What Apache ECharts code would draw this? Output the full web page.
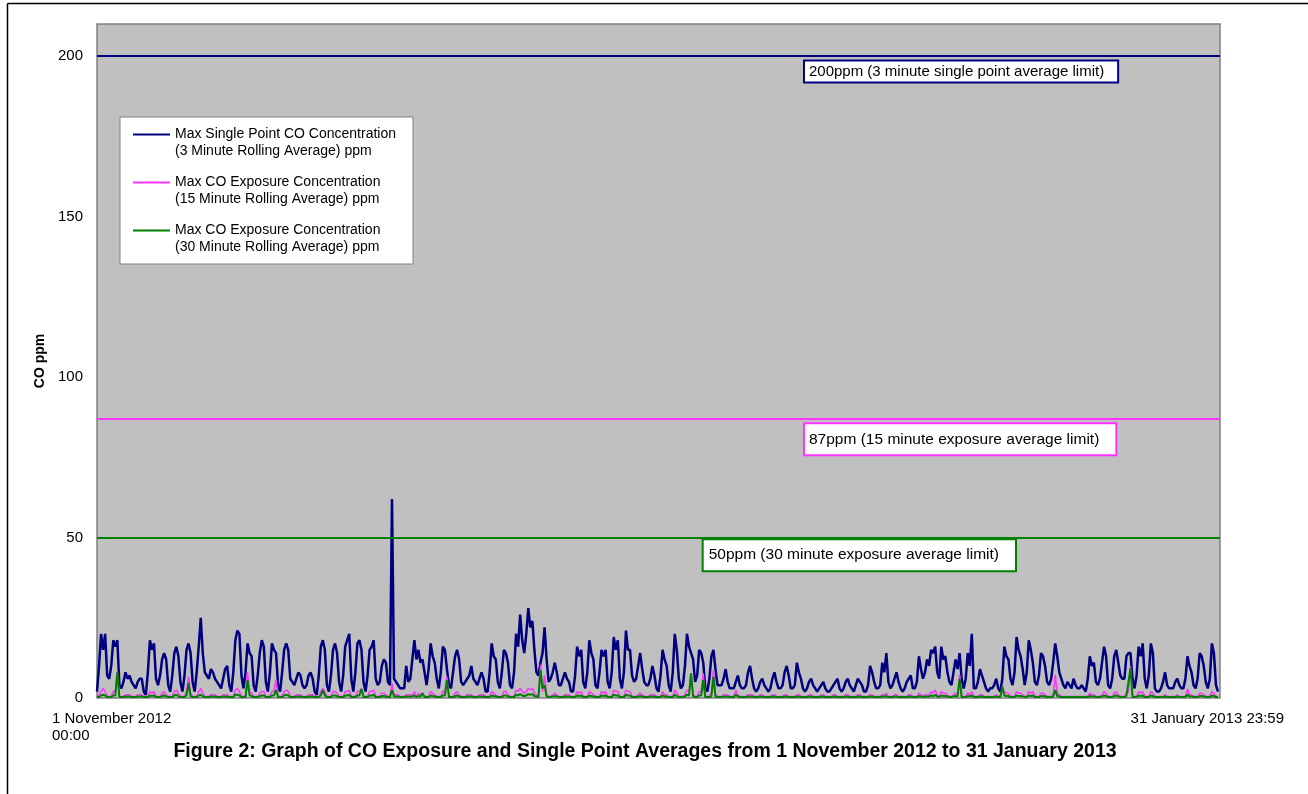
<!DOCTYPE html>
<html><head><meta charset="utf-8">
<script src="https://cdn.jsdelivr.net/npm/echarts@6/dist/echarts.min.js"></script>
<style>html,body{margin:0;padding:0;background:#fff}#c{width:1308px;height:794px}</style>
</head><body><div id="c"></div>
<script>
// ---- data (one sample every 4 hours, 6 per day, from 1 Nov 2012 00:00) ----
const seriesNames = [
  'Max Single Point CO Concentration\n(3 Minute Rolling Average) ppm',
  'Max CO Exposure Concentration\n(15 Minute Rolling Average) ppm',
  'Max CO Exposure Concentration\n(30 Minute Rolling Average) ppm'
];
const xTickLabels = ['1 November 2012\n00:00', '31 January 2013 23:59'];
const yTickValues = [0, 50, 100, 150, 200];
const limitValues = [200, 87, 50];
const limitLabels = [
  '200ppm (3 minute single point average limit)',
  '87ppm (15 minute exposure average limit)',
  '50ppm (30 minute exposure average limit)'
];
const titleText = 'Figure 2: Graph of CO Exposure and Single Point Averages from 1 November 2012 to 31 January 2013';

const singlePoint3min = [
  2,10,20,15,20,7,  6,10,18,16,18,4,  3,5,8,6,7,5,  4,3,5,6,6,2,
  1,8,18,15,17,6,  4,7,12,14,12,4,  2,7,14,16,13,5,  2,7,15,17,14,5,
  2,8,16,25,14,8,  7,6,9,8,6,5,  4,3,6,9,10,4,  2,8,18,21,20,7,
  3,8,17,14,13,4,  2,7,14,18,16,5,  2,8,17,15,14,4,  2,8,15,17,15,6,
  5,4,6,8,7,4,  3,4,7,8,6,2,  1,7,16,18,15,4,  2,7,15,17,14,5,
  2,7,16,18,20,6,  2,8,17,18,15,5,  2,7,15,16,18,6,  4,5,10,12,11,5,
  4,62,6,5,4,3,  3,3,10,5,6,12,  18,12,15,11,12,8,  4,9,17,13,11,6,
  3,8,16,15,9,4,  3,8,13,15,12,5,  4,5,6,7,10,6,  5,4,6,8,6,2,
  2,8,17,13,12,5,  3,8,15,14,11,4,  3,8,20,16,26,18,  14,20,28,22,24,15,
  8,7,11,14,22,12,  5,6,8,11,8,4,  4,6,8,6,5,2,  2,7,16,13,15,5,
  3,8,18,14,12,4,  3,8,15,13,15,5,  3,8,19,15,18,6,  3,8,21,15,15,7,
  5,6,10,14,9,5,  4,4,6,10,7,3,  2,7,15,12,10,4,  2,8,20,15,6,3,
  4,10,20,16,14,12,  5,7,15,14,11,3,  2,6,13,15,9,4,  4,4,6,9,5,3,
  3,3,5,7,4,3,  3,4,8,10,6,3,  2,3,5,6,4,3,  2,3,6,8,5,3,
  3,4,8,10,7,3,  3,4,11,8,6,3,  2,3,5,6,4,3,  2,3,4,5,3,2,
  2,3,4,5,6,3,  2,3,5,6,4,3,  2,4,6,5,4,2,  2,4,10,8,5,3,
  3,4,11,8,14,5,  3,4,6,8,5,3,  2,3,5,6,7,3,  3,5,13,9,6,8,
  12,10,15,14,16,8,  6,16,12,13,8,5,  4,8,12,9,14,6,  3,6,14,10,20,3,
  3,5,9,7,5,3,  2,3,3,4,6,3,  2,6,16,13,12,6,  4,8,19,15,13,9,
  4,8,18,15,11,5,  4,7,14,13,10,5,  4,6,11,17,13,8,  6,4,3,5,4,3,
  6,4,3,3,4,3,  2,6,13,10,11,5,  4,6,11,16,13,4,  3,6,13,15,11,7,
  6,6,13,14,14,6,  3,7,16,13,17,6,  3,7,17,14,3,2,  2,3,5,8,4,3,
  3,3,5,6,4,3,  3,6,13,10,8,4,  3,6,14,13,10,5,  3,6,17,14,4,2
];

const exposure15min = [
  0.5,1,2,3,2,0.5,  0.5,0.5,2,2,8,0.5,  0.5,0.5,1,1,1,0.5,  0.5,0.5,1,1,1,0.5,
  0.5,0.5,2,1.5,2,0.5,  0.5,0.5,1.5,2,1,0.5,  0.5,0.5,2,2.5,1.5,0.5,  0.5,0.5,2,6.6,1.5,0.5,
  0.5,0.5,2,3,1.5,0.5,  0.5,0.5,1,1,1,0.5,  0.5,0.5,1,1,1,0.5,  0.5,0.5,2.5,3,2,0.5,
  0.5,0.5,8,2,1.5,0.5,  0.5,0.5,1.5,2,2,0.5,  0.5,0.5,2,2,5.6,0.5,  0.5,0.5,2,2.5,2,0.5,
  0.5,0.5,1,1,1,0.5,  0.5,0.5,1,1,1,0.5,  0.5,0.5,2,3,2,0.5,  0.5,0.5,2,2,1.5,0.5,
  0.5,0.5,2,2,2.5,0.5,  0.5,0.5,2,2,3,0.5,  0.5,0.5,2,2,2.5,0.5,  0.5,0.5,1.5,1.5,1,0.5,
  0.5,4.5,1,1,1,0.5,  0.5,0.5,1,1,1,1,  2,0.5,1.5,1,1.5,0.5,  0.5,0.5,2,1.5,1,0.5,
  0.5,0.5,2,2,6.6,0.5,  0.5,0.5,1.5,2,1,0.5,  0.5,0.5,1,1,1,0.5,  0.5,0.5,1,1,1,0.5,
  0.5,0.5,2,1.5,1,0.5,  0.5,0.5,2,2,1,0.5,  0.5,0.5,2.5,2,3,2,  1.5,2,3,2.5,3,1.5,
  1,0.5,10.4,2,7,1,  0.5,0.5,1,1.5,1,0.5,  0.5,0.5,1,1,1,0.5,  0.5,0.5,2,1.5,2,0.5,
  0.5,0.5,2,1.5,1,0.5,  0.5,0.5,2,1.5,2,0.5,  0.5,0.5,2.5,2,2,0.5,  0.5,0.5,2.5,2,2,0.5,
  0.5,0.5,1,1.5,1,0.5,  0.5,0.5,1,1,1,0.5,  0.5,0.5,2,1,1,0.5,  0.5,0.5,2.5,1.5,0.5,0.5,
  0.5,1,2.5,2,7.7,1,  0.5,0.5,2,2,7.7,0.5,  0.5,0.5,1.5,8.7,1,0.5,  0.5,0.5,1,1,1,0.5,
  0.5,0.5,2.5,1,0.5,0.5,  0.5,0.5,1,1,1,0.5,  0.5,0.5,1,1,0.5,0.5,  0.5,0.5,1,1,0.5,0.5,
  0.5,0.5,1,1,0.5,0.5,  0.5,0.5,1,1,0.5,0.5,  0.5,0.5,1,1,0.5,0.5,  0.5,0.5,1,1,0.5,0.5,
  0.5,0.5,1,1,0.5,0.5,  0.5,0.5,1,1,0.5,0.5,  0.5,0.5,1,1,0.5,0.5,  0.5,0.5,1,1,0.5,0.5,
  0.5,0.5,1,1,1.5,0.5,  0.5,0.5,1,1,0.5,0.5,  0.5,0.5,0.5,1,1,0.5,  0.5,0.5,1.5,1,0.5,1,
  1,1,2,1.5,2.5,1,  0.5,2,1.5,1.5,1,0.5,  0.5,1,1.5,1,7.2,0.5,  0.5,0.5,1.5,1,2,0.5,
  0.5,0.5,1,1,0.5,0.5,  0.5,0.5,0.5,0.5,1,0.5,  0.5,3.5,2,1.5,1.5,0.5,  0.5,0.5,2,1.5,1.5,1,
  0.5,0.5,2,1.5,2,0.5,  0.5,0.5,1.5,1.5,1,0.5,  0.5,0.5,1,7.2,1.5,1,  0.5,0.5,0.5,0.5,0.5,0.5,
  0.5,0.5,0.5,0.5,0.5,0.5,  0.5,0.5,1.5,1,1,0.5,  0.5,0.5,1,2,1.5,0.5,  0.5,0.5,1.5,2,1,0.5,
  0.5,0.5,1.5,2,9.8,0.5,  0.5,0.5,2,1.5,2,0.5,  0.5,0.5,2,1.5,0.5,0.5,  0.5,0.5,0.5,1,0.5,0.5,
  0.5,0.5,0.5,1,0.5,0.5,  0.5,0.5,2.8,1,1,0.5,  0.5,0.5,1.5,1.5,1,0.5,  0.5,0.5,2,1.5,0.5,0.5
];

const exposure30min = [
  0.3,0.3,0.8,1,0.8,0.3,  0.3,0.3,0.8,0.8,8,0.3,  0.3,0.3,0.5,0.5,0.5,0.3,  0.3,0.3,0.5,0.5,0.5,0.3,
  0.3,0.3,0.8,0.6,0.8,0.3,  0.3,0.3,0.6,0.8,0.5,0.3,  0.3,0.3,0.8,1,0.6,0.3,  0.3,0.3,0.8,4.6,0.6,0.3,
  0.3,0.3,0.8,1,0.6,0.3,  0.3,0.3,0.5,0.5,0.5,0.3,  0.3,0.3,0.5,0.5,0.5,0.3,  0.3,0.3,1,1,0.8,0.3,
  0.3,0.3,5.6,0.8,0.6,0.3,  0.3,0.3,0.6,0.8,0.8,0.3,  0.3,0.3,0.8,0.8,2.5,0.3,  0.3,0.3,0.8,1,0.8,0.3,
  0.3,0.3,0.5,0.5,0.5,0.3,  0.3,0.3,0.5,0.5,0.5,0.3,  0.3,0.3,0.8,2.5,0.8,0.3,  0.3,0.3,0.8,0.8,0.6,0.3,
  0.3,0.3,0.8,0.8,1,0.3,  0.3,0.3,0.8,0.8,2.8,0.3,  0.3,0.3,0.8,0.8,1,0.3,  0.3,0.3,0.6,0.6,0.5,0.3,
  0.3,2.5,0.5,0.5,0.5,0.3,  0.3,0.3,0.5,0.5,0.5,0.5,  0.8,0.3,0.6,0.5,1.5,0.3,  0.3,0.3,0.8,0.6,0.5,0.3,
  0.3,0.3,0.8,0.8,5.6,0.3,  0.3,0.3,0.6,0.8,0.5,0.3,  0.3,0.3,0.5,0.5,0.5,0.3,  0.3,0.3,0.5,0.5,0.5,0.3,
  0.3,0.3,0.8,0.6,0.5,0.3,  0.3,0.3,0.8,0.8,0.5,0.3,  0.3,0.3,1,0.8,1.2,0.8,  0.6,0.8,1.2,1,1.2,0.6,
  0.5,0.3,8.7,3,4,0.5,  0.3,0.3,0.5,0.6,0.5,0.3,  0.3,0.3,0.5,0.5,0.5,0.3,  0.3,0.3,0.8,0.6,0.8,0.3,
  0.3,0.3,0.8,0.6,0.5,0.3,  0.3,0.3,0.8,0.6,0.8,0.3,  0.3,0.3,1,0.8,0.8,0.3,  0.3,0.3,1,0.8,0.8,0.3,
  0.3,0.3,0.5,0.6,0.5,0.3,  0.3,0.3,0.5,0.5,0.5,0.3,  0.3,0.3,0.8,0.5,0.5,0.3,  0.3,0.3,1,0.6,0.3,0.3,
  0.3,0.5,1,0.8,7.7,0.5,  0.3,0.3,0.8,0.8,5.6,0.3,  0.3,0.3,0.6,6.6,0.5,0.3,  0.3,0.3,0.5,0.5,0.5,0.3,
  0.3,0.3,1,0.5,0.3,0.3,  0.3,0.3,0.5,0.5,0.5,0.3,  0.3,0.3,0.5,0.5,0.3,0.3,  0.3,0.3,0.5,0.5,0.3,0.3,
  0.3,0.3,0.5,0.5,0.3,0.3,  0.3,0.3,0.5,0.5,0.3,0.3,  0.3,0.3,0.5,0.5,0.3,0.3,  0.3,0.3,0.5,0.5,0.3,0.3,
  0.3,0.3,0.5,0.5,0.3,0.3,  0.3,0.3,0.5,0.5,0.3,0.3,  0.3,0.3,0.5,0.5,0.3,0.3,  0.3,0.3,0.5,0.5,0.3,0.3,
  0.3,0.3,0.5,0.5,0.6,0.3,  0.3,0.3,0.5,0.5,0.3,0.3,  0.3,0.3,0.3,0.5,0.5,0.3,  0.3,0.3,0.6,0.5,0.3,0.5,
  0.5,0.5,0.8,0.6,1,0.5,  0.3,0.8,0.6,0.6,0.5,0.3,  0.3,0.5,0.6,0.5,6,0.3,  0.3,0.3,0.6,0.5,0.8,0.3,
  0.3,0.3,0.5,0.5,0.3,0.3,  0.3,0.3,0.3,0.3,0.5,0.3,  0.3,3.5,0.8,0.6,0.6,0.3,  0.3,0.3,0.8,0.6,0.6,0.5,
  0.3,0.3,0.8,0.6,0.8,0.3,  0.3,0.3,0.6,0.6,0.5,0.3,  0.3,0.3,0.5,2.5,0.6,0.5,  0.3,0.3,0.3,0.3,0.3,0.3,
  0.3,0.3,0.3,0.3,0.3,0.3,  0.3,0.3,0.6,0.5,0.5,0.3,  0.3,0.3,0.5,0.8,0.6,0.3,  0.3,0.3,0.6,0.8,0.5,0.3,
  0.3,0.3,0.6,5,9.3,0.3,  0.3,0.3,0.8,0.6,0.8,0.3,  0.3,0.3,0.8,0.6,0.3,0.3,  0.3,0.3,0.3,0.5,0.3,0.3,
  0.3,0.3,0.3,0.5,0.3,0.3,  0.3,0.3,1,0.5,0.5,0.3,  0.3,0.3,0.6,0.6,0.5,0.3,  0.3,0.3,0.8,0.6,0.3,0.3
];

// ---- chart ----
const START = Date.UTC(2012, 10, 1, 0, 0);
const END = Date.UTC(2013, 0, 31, 23, 59);
const STEP = 4 * 3600 * 1000;
const DAY = 86400000;
const toPairs = arr => arr.map((v, i) => [START + i * STEP, v]);
const colors = ['#000080', '#ff33ff', '#008000'];
const FONT = '"Liberation Sans", Arial, sans-serif';
// label box anchor positions (days from start, ppm)
const boxAnchors = [[58.0, 195.2], [58.0, 80.6], [49.7, 44.5]];
const boxPadding = [[1, 13, 1, 4], [6, 16, 6, 4], [6, 16, 6, 5]];
const boxFont = [15, 15.5, 15.5];

const chart = echarts.init(document.getElementById('c'), null, {renderer: 'canvas'});
const series = [singlePoint3min, exposure15min, exposure30min].map((arr, k) => ({
  name: seriesNames[k],
  type: 'line',
  data: toPairs(arr),
  symbol: 'none',
  showSymbol: false,
  color: colors[k],
  lineStyle: {color: colors[k], width: k === 0 ? 2.5 : (k === 1 ? 1.5 : 2)},
  z: 2 + k,
  silent: true,
  markLine: {
    silent: true, symbol: ['none', 'none'],
    label: {show: false},
    lineStyle: {color: colors[k], width: 2, type: 'solid'},
    data: [{yAxis: limitValues[k]}]
  },
  markPoint: {
    silent: true, symbol: 'rect', symbolSize: 0,
    data: [{coord: [START + boxAnchors[k][0] * DAY, boxAnchors[k][1]], value: limitValues[k]}],
    label: {
      show: true, position: 'right', distance: 0,
      formatter: limitLabels[k],
      color: '#000', fontSize: boxFont[k], fontFamily: FONT, lineHeight: 18,
      backgroundColor: '#fff', borderColor: colors[k], borderWidth: 2,
      padding: boxPadding[k]
    }
  }
}));

chart.setOption({
  animation: false,
  backgroundColor: '#fff',
  textStyle: {fontFamily: FONT, color: '#000'},
  title: {
    text: titleText, left: 640, top: 737, textAlign: 'center',
    textStyle: {fontSize: 19.5, fontWeight: 'bold', color: '#000', fontFamily: FONT}
  },
  grid: {left: 97, right: 88, top: 24, bottom: 96, show: true,
         backgroundColor: '#c0c0c0', borderColor: '#808080', borderWidth: 1.5},
  legend: {
    orient: 'vertical', left: 120, top: 117,
    backgroundColor: '#fff', borderColor: '#808080', borderWidth: 1,
    padding: [9, 17, 8, 13], itemGap: 14, itemWidth: 37, itemHeight: 34,
    icon: 'path://M0,7.6h37v1.8h-37z M0,0h0.05v0.05h-0.05z M0,33.95h0.05v0.05h-0.05z',
    textStyle: {fontSize: 14, lineHeight: 17, color: '#000', fontFamily: FONT},
    selectedMode: false,
    data: seriesNames
  },
  xAxis: {
    type: 'time', min: START, max: END,
    axisLine: {show: false}, axisTick: {show: false},
    axisLabel: {show: false}, splitLine: {show: false}
  },
  yAxis: {
    type: 'value', min: 0, max: 210, interval: 50,
    axisLine: {show: false}, axisTick: {show: false}, splitLine: {show: false},
    axisLabel: {
      fontSize: 15, color: '#000', margin: 14, fontFamily: FONT,
      formatter: v => (yTickValues.indexOf(v) >= 0 ? String(v) : '')
    },
    name: 'CO ppm', nameLocation: 'middle', nameRotate: 90, nameGap: 50,
    nameTextStyle: {fontWeight: 'bold', fontSize: 14, color: '#000', fontFamily: FONT}
  },
  graphic: [
    {type: 'line', shape: {x1: 7.5, y1: 3.5, x2: 7.5, y2: 794}, style: {stroke: '#000', lineWidth: 1.5}, silent: true},
    {type: 'line', shape: {x1: 7.5, y1: 3.5, x2: 1308, y2: 3.5}, style: {stroke: '#000', lineWidth: 1.5}, silent: true},
    {type: 'text', left: 52, top: 710, silent: true,
     style: {text: xTickLabels[0], fontSize: 15, lineHeight: 17, fill: '#000', fontFamily: FONT, align: 'left'}},
    {type: 'text', right: 24, top: 710, silent: true,
     style: {text: xTickLabels[1], fontSize: 15, lineHeight: 17, fill: '#000', fontFamily: FONT, align: 'right'}}
  ],
  series: series
});
</script>
</body></html>
